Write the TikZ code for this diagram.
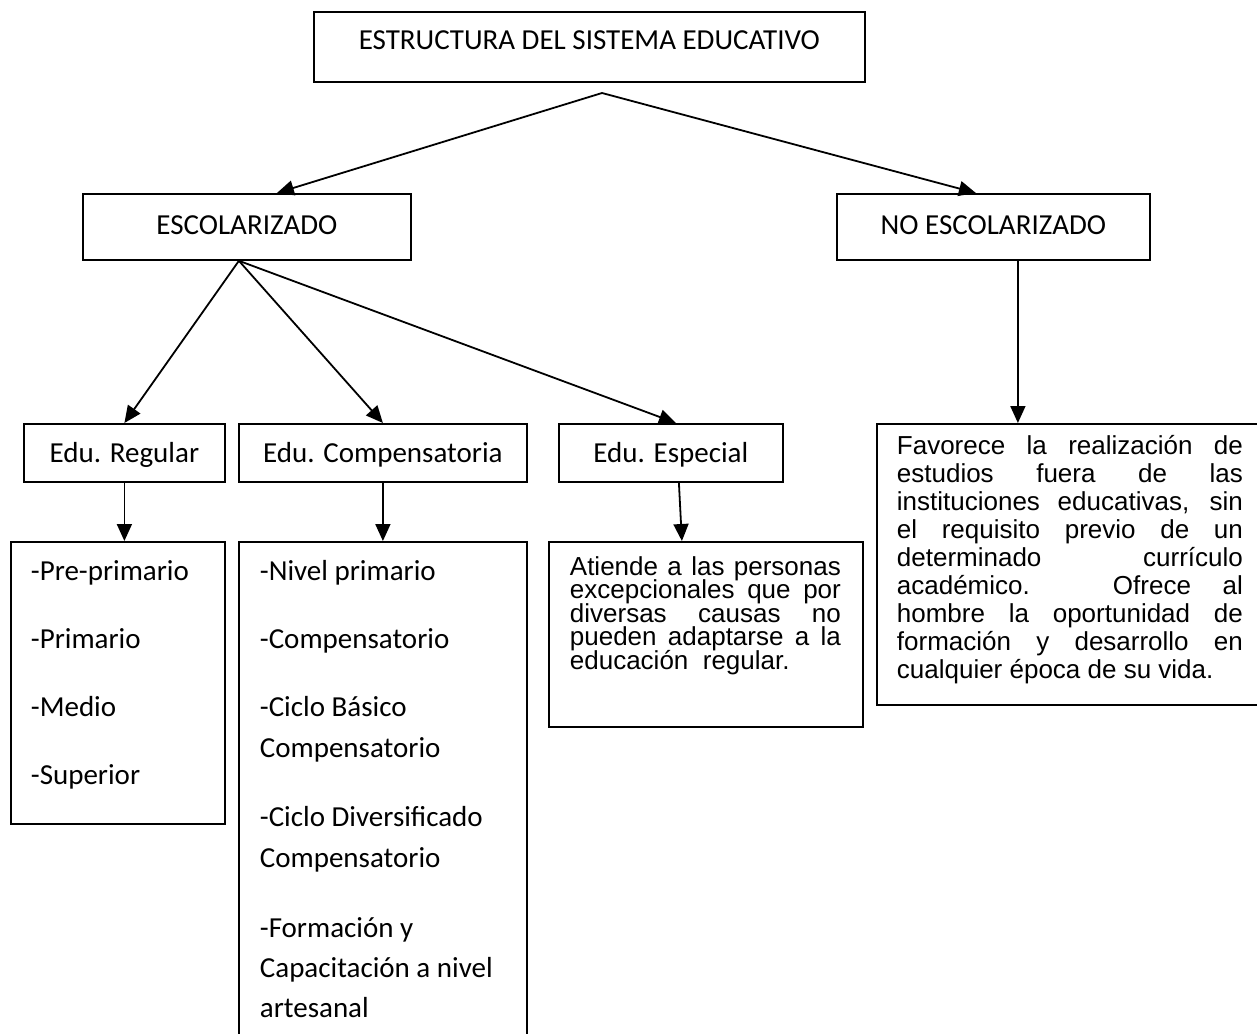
\documentclass[tikz,border=0pt]{standalone}
\usepackage{fontspec}
\setmainfont{Carlito}
\newfontfamily\arialfont{Liberation Sans}
\usetikzlibrary{arrows.meta}

\begin{document}
\begin{tikzpicture}[x=0.5pt, y=-0.5pt, line width=0.9pt,
    font=\fontsize{14.5pt}{17pt}\selectfont,
    box/.style={draw, anchor=north west, inner sep=0pt},
    head/.style={box, text height=20.5pt, text depth=12.5pt},
    sub/.style={box, text height=19.5pt, text depth=9.5pt},
    item/.style={anchor=base west, inner sep=0pt},
    para/.style={item, font=\arialfont\fontsize{13pt}{15pt}\selectfont},
    arr/.style={-{Triangle[length=8.5pt, width=7.5pt]}}]

    \useasboundingbox (0,0) rectangle (1257,1033);
    \clip (0,0) rectangle (1257,1033);

    \node[box, minimum width=275.5pt, text height=19pt, text depth=16pt] (sistema) at (313,11) {ESTRUCTURA DEL SISTEMA EDUCATIVO};
    \node[head, minimum width=164pt] (esc) at (82,193) {ESCOLARIZADO};
    \node[head, minimum width=156.5pt] (noesc) at (836,193) {NO ESCOLARIZADO};

    \node[sub, minimum width=100.5pt] (regular) at (23,423) {Edu. Regular};
    \node[sub, minimum width=144pt] (compens) at (238,423) {Edu. Compensatoria};
    \node[sub, minimum width=112pt] (especial) at (558,423) {Edu. Especial};

    \node[box, minimum width=107pt, minimum height=141pt] (reglist) at (10,541) {};
    \node[box, minimum width=144pt, minimum height=256pt] (complist) at (238,541) {};
    \node[box, minimum width=157pt, minimum height=92.5pt] (esplist) at (548,541) {};
    \node[box, minimum width=195pt, minimum height=140.5pt] (noesclist) at (876,423) {};

    \foreach \txt [count=\i from 0] in {-Pre-primario,-Primario,-Medio,-Superior}
        \node[item] (reg-\i) at (30,{580+68*\i}) {\txt};

    \foreach \y/\txt [count=\i] in {580/-Nivel primario, 648/-Compensatorio, 716/-Ciclo Básico, 757/Compensatorio, 826/-Ciclo Diversificado, 867/Compensatorio, 937/-Formación y, 977/Capacitación a nivel, 1017/artesanal}
        \node[item] (comp-\i) at (259,\y) {\txt};

    \foreach \y/\txt [count=\i] in {575/Atiende a las personas, 598.5/excepcionales que por, 622/diversas causas no, 645.5/pueden adaptarse a la}
        \node[para] (esp-\i) at (569,\y) {\makebox[135.5pt][s]{\txt}};
    \node[para] (esp-5) at (569,669) {educación\ \ regular.};

    \foreach \y/\txt [count=\i] in {454/Favorece la realización de, 482.1/estudios fuera de las, 510.2/{instituciones educativas, sin}, 538.3/el requisito previo de un, 566.4/determinado currículo, 594.5/académico. Ofrece al, 622.6/hombre la oportunidad de, 650.7/formación y desarrollo en}
        \node[para] (noesc-\i) at (896,\y) {\makebox[173pt][s]{\txt}};
    \node[para] (noesc-9) at (896,678.8) {cualquier época de su vida.};

    \coordinate (fork) at (602,93);
    \draw[arr] (fork) -- ([xshift=15pt]esc.north);
    \draw[arr] (fork) -- ([xshift=-8.75pt]noesc.north);
    \draw[arr] ([xshift=-4pt]esc.south) -- (regular.north);
    \draw[arr] ([xshift=-4pt]esc.south) -- (compens.north);
    \draw[arr] ([xshift=-4pt]esc.south) -- ([xshift=2.5pt]especial.north);
    \draw[arr] (regular.south) -- (regular.south |- reglist.north);
    \draw[arr] (compens.south) -- (compens.south |- complist.north);
    \draw[arr] ([xshift=4pt]especial.south) -- ([xshift=-12pt]esplist.north);
    \draw[arr] ([xshift=12.25pt]noesc.south) -- ([xshift=12.25pt]noesc.south |- noesclist.north);
\end{tikzpicture}
\end{document}
